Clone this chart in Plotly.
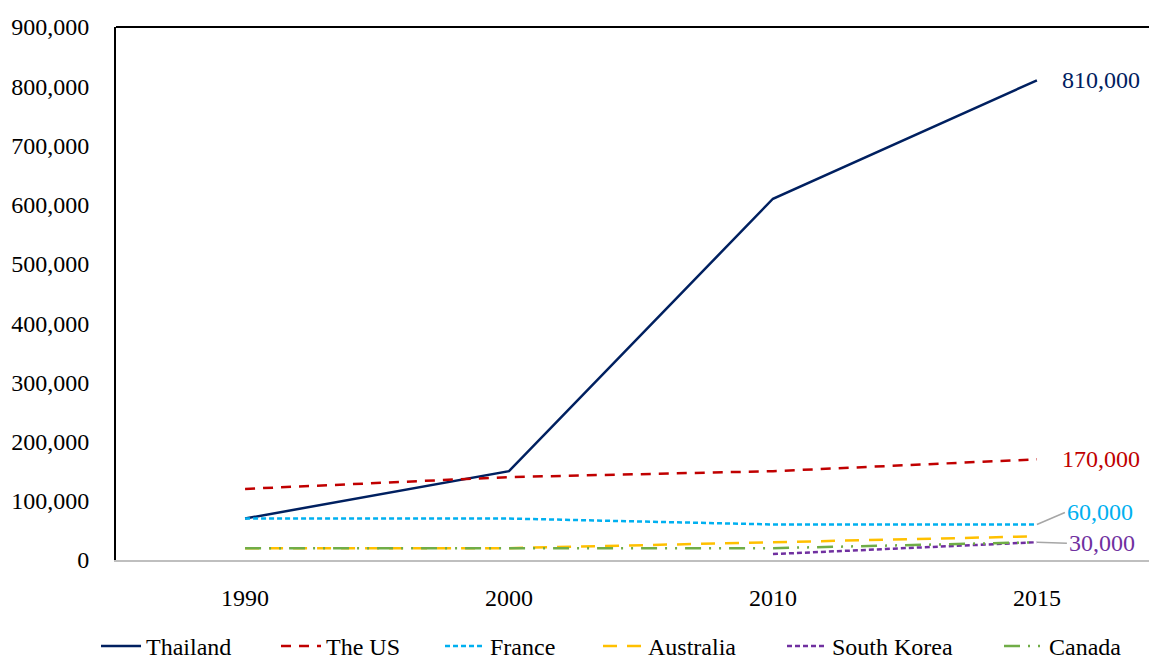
import plotly.graph_objects as go

years = ["1990", "2000", "2010", "2015"]
thailand = [70000, 150000, 610000, 810000]
the_us = [120000, 140000, 150000, 170000]
france = [70000, 70000, 60000, 60000]
australia = [20000, 20000, 30000, 40000]
south_korea = [None, None, 10000, 30000]
canada = [20000, 20000, 20000, 30000]

y_ticks = [0, 100000, 200000, 300000, 400000, 500000, 600000, 700000, 800000, 900000]

FONT = "Palatino Linotype, Book Antiqua, Palatino, Liberation Serif, serif"
FS = 24
xpos = list(range(len(years)))

series = [
    ("Thailand", thailand, "#002060", "solid", 125),
    ("The US", the_us, "#C00000", "10px,8px", 109),
    ("France", france, "#00B0F0", "5px,3px", 103),
    ("Australia", australia, "#FFC000", "14px,10px", 129),
    ("South Korea", south_korea, "#7030A0", "5px,3px", 162),
    ("Canada", canada, "#70AD47", "16px,8px,2px,8px,2px,8px", 74),
]

fig = go.Figure()
for name, vals, color, dash, lw in series:
    fig.add_trace(go.Scatter(
        x=xpos, y=vals, name=name, mode="lines",
        line=dict(color=color, dash=dash, width=2.5),
        connectgaps=False, legendwidth=lw,
    ))

# end labels
fig.add_annotation(x=3, y=thailand[3], text="810,000", showarrow=False,
                   xanchor="left", xshift=23, font=dict(color="#002060", size=FS, family=FONT))
fig.add_annotation(x=3, y=the_us[3], text="170,000", showarrow=False,
                   xanchor="left", xshift=23, font=dict(color="#C00000", size=FS, family=FONT))
fig.add_annotation(x=3, y=france[3], text="60,000", showarrow=True, arrowhead=0,
                   arrowcolor="#A6A6A6", arrowwidth=1.5, ax=28, ay=-12, xanchor="left",
                   font=dict(color="#00B0F0", size=FS, family=FONT))
fig.add_annotation(x=3, y=south_korea[3], text="30,000", showarrow=True, arrowhead=0,
                   arrowcolor="#A6A6A6", arrowwidth=1.5, ax=30, ay=1, xanchor="left",
                   font=dict(color="#7030A0", size=FS, family=FONT))

# top border line
fig.add_shape(type="line", xref="paper", yref="paper", x0=0, x1=1, y0=1, y1=1,
              line=dict(color="black", width=2))

fig.update_layout(
    width=1149, height=652,
    margin=dict(l=108, r=0, t=19, b=100, autoexpand=False),
    paper_bgcolor="white", plot_bgcolor="white",
    font=dict(family=FONT, size=FS, color="black"),
    showlegend=True,
    legend=dict(orientation="h", xref="container", x=0.0766, xanchor="left",
                yref="paper", y=-0.162, yanchor="middle",
                bgcolor="rgba(0,0,0,0)",
                font=dict(size=FS, family=FONT), itemwidth=40, tracegroupgap=0),
    xaxis=dict(range=[-0.489, 3.455], tickvals=xpos, ticktext=years,
               showgrid=False, zeroline=False, showline=True, linecolor="#BFBFBF",
               linewidth=2, ticks="", ticklabelstandoff=15, fixedrange=True,
               automargin=False),
    yaxis=dict(range=[0, 900000], tickvals=y_ticks, tickformat=",",
               showgrid=False, zeroline=False, showline=True, linecolor="black",
               linewidth=2, ticks="", ticklabelstandoff=20, fixedrange=True,
               automargin=False),
)

fig.write_html("out.html")
